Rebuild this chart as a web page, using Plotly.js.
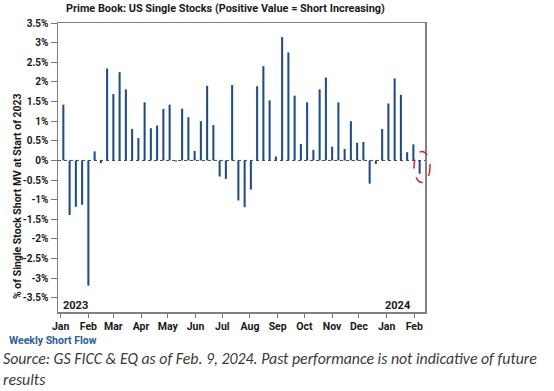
<!DOCTYPE html>
<html>
<head>
<meta charset="utf-8">
<script src="https://cdn.plot.ly/plotly-3.0.1.min.js"></script>
<style>html,body{margin:0;padding:0;background:#fff;}#chart{width:554px;height:391px;}</style>
</head>
<body>
<div id="chart"></div>
<script>
// Weekly dates (week of)
const weekDates = [
  '2023-01-04','2023-01-11','2023-01-18','2023-01-25',
  '2023-02-01','2023-02-08','2023-02-15','2023-02-22',
  '2023-03-01','2023-03-08','2023-03-15','2023-03-22','2023-03-29',
  '2023-04-05','2023-04-12','2023-04-19','2023-04-26',
  '2023-05-03','2023-05-10','2023-05-17','2023-05-24','2023-05-31',
  '2023-06-07','2023-06-14','2023-06-21','2023-06-28',
  '2023-07-05','2023-07-12','2023-07-19','2023-07-26',
  '2023-08-02','2023-08-09','2023-08-16','2023-08-23','2023-08-30',
  '2023-09-06','2023-09-13','2023-09-20','2023-09-27',
  '2023-10-04','2023-10-11','2023-10-18','2023-10-25',
  '2023-11-01','2023-11-08','2023-11-15','2023-11-22','2023-11-29',
  '2023-12-06','2023-12-13','2023-12-20','2023-12-27',
  '2024-01-03','2024-01-10','2024-01-17','2024-01-24','2024-01-31',
  '2024-02-07'
];
// Weekly short flow (% of single stock short MV at start of 2023)
const shortFlow = [
  1.42, -1.39, -1.18, -1.13,
  -3.19, 0.23, -0.07, 2.34,
  1.69, 2.25, 1.81, 0.80, 0.57,
  1.48, 0.82, 0.89, 1.31,
  1.42, -0.03, 1.32, 1.10, 0.24,
  1.00, 1.90, 0.90, -0.41,
  -0.47, 1.92, -1.02, -1.19,
  -0.74, 1.89, 2.40, 1.53, 0.10,
  3.14, 2.75, 1.65, 0.42,
  1.48, 0.27, 1.81, 2.11,
  0.35, 1.48, 0.29, 1.00, 0.45,
  0.47, -0.59, -0.09, 0.80,
  1.45, 2.09, 1.67, 0.21, 0.41,
  -0.34
];
const monthTicks = ['2023-01-01','2023-02-01','2023-03-01','2023-04-01','2023-05-01','2023-06-01',
  '2023-07-01','2023-08-01','2023-09-01','2023-10-01','2023-11-01','2023-12-01','2024-01-01','2024-02-01'];
const monthLabels = ['Jan','Feb','Mar','Apr','May','Jun','Jul','Aug','Sep','Oct','Nov','Dec','Jan','Feb'];
const yTickVals = [3.5,3,2.5,2,1.5,1,0.5,0,-0.5,-1,-1.5,-2,-2.5,-3,-3.5];
const yTickText = ['3.5%','3%','2.5%','2%','1.5%','1%','0.5%','0%','-0.5%','-1%','-1.5%','-2%','-2.5%','-3%','-3.5%'];

const W = 554, H = 391;
const M = {l: 58, r: 554 - 425, t: 23, b: 391 - 312};
const PW = W - M.l - M.r, PH = H - M.t - M.b;
const px = v => (v - M.l) / PW;
const py = v => 1 - (v - M.t) / PH;

const boldFont = 'Roboto, "Liberation Sans", Arial, sans-serif';
const srcFont = 'Carlito, Calibri, "Liberation Sans", sans-serif';

const trace = {
  type: 'bar',
  x: weekDates,
  y: shortFlow,
  width: 2.3 * 86400000,
  marker: {color: '#1F4B8E', line: {width: 0}},
  hoverinfo: 'x+y'
};

const layout = {
  width: W, height: H,
  margin: M,
  paper_bgcolor: '#fff', plot_bgcolor: '#fff',
  showlegend: false,
  font: {family: boldFont, size: 10, color: '#1a1a1a', weight: 'bold'},
  xaxis: {
    type: 'date',
    range: ['2022-12-29', '2024-02-13'],
    tickvals: monthTicks, ticktext: monthLabels,
    ticks: 'outside', ticklen: 4, tickcolor: '#777', tickwidth: 1,
    showgrid: false, zeroline: false,
    showline: true, linecolor: '#808080', linewidth: 1.5, mirror: true,
    tickfont: {family: boldFont, size: 10.5, color: '#1a1a1a', weight: 'bold'},
    fixedrange: true
  },
  yaxis: {
    range: [-3.86, 3.5],
    tickvals: yTickVals, ticktext: yTickText,
    ticks: 'outside', ticklen: 6, tickcolor: '#777', tickwidth: 1,
    showgrid: false, zeroline: false,
    showline: true, linecolor: '#808080', linewidth: 1.5, mirror: true,
    tickfont: {family: boldFont, size: 10, color: '#1a1a1a', weight: 'bold'},
    fixedrange: true
  },
  shapes: [
    {type: 'line', xref: 'paper', x0: 0, x1: 1, yref: 'y', y0: 0, y1: 0,
     line: {color: '#444', width: 1, dash: 'dot'}, layer: 'below'},
    {type: 'circle', xref: 'paper', yref: 'paper',
     x0: px(414), x1: px(430), y0: py(182.5), y1: py(151.5),
     line: {color: '#D7262E', width: 1.5, dash: 'dash'}}
  ],
  annotations: [
    {text: 'Prime Book: US Single Stocks (Positive Value = Short Increasing)',
     xref: 'paper', yref: 'paper', x: px(64), y: py(9), xanchor: 'left', yanchor: 'middle',
     showarrow: false, font: {family: boldFont, size: 10.9, color: '#1a1a1a', weight: 'bold'}},
    {text: '% of Single Stock Short MV at Start of 2023',
     xref: 'paper', yref: 'paper', x: px(17), y: py(196), xanchor: 'center', yanchor: 'middle',
     textangle: -90, showarrow: false, font: {family: boldFont, size: 10.5, color: '#1a1a1a', weight: 'bold'}},
    {text: '2023', xref: 'paper', yref: 'paper', x: px(61), y: py(305), xanchor: 'left', yanchor: 'middle',
     showarrow: false, font: {family: boldFont, size: 11, color: '#1a1a1a', weight: 'bold'}},
    {text: '2024', xref: 'paper', yref: 'paper', x: px(413), y: py(305), xanchor: 'right', yanchor: 'middle',
     showarrow: false, font: {family: boldFont, size: 11, color: '#1a1a1a', weight: 'bold'}},
    {text: 'Weekly Short Flow', xref: 'paper', yref: 'paper', x: px(7), y: py(340), xanchor: 'left', yanchor: 'middle',
     showarrow: false, font: {family: boldFont, size: 10.5, color: '#2B5D9E', weight: 'bold'}},
    {text: 'Source: GS FICC &amp; EQ as of Feb. 9, 2024. Past performance is not indicative of future<br>results',
     xref: 'paper', yref: 'paper', x: px(2), y: py(390), xanchor: 'left', yanchor: 'bottom', align: 'left',
     borderpad: 0,
     showarrow: false, font: {family: srcFont, size: 15.8, color: '#3a3a3a', style: 'italic', weight: 'normal'}}
  ]
};

Plotly.newPlot('chart', [trace], layout, {displayModeBar: false, staticPlot: true});
</script>
</body>
</html>
